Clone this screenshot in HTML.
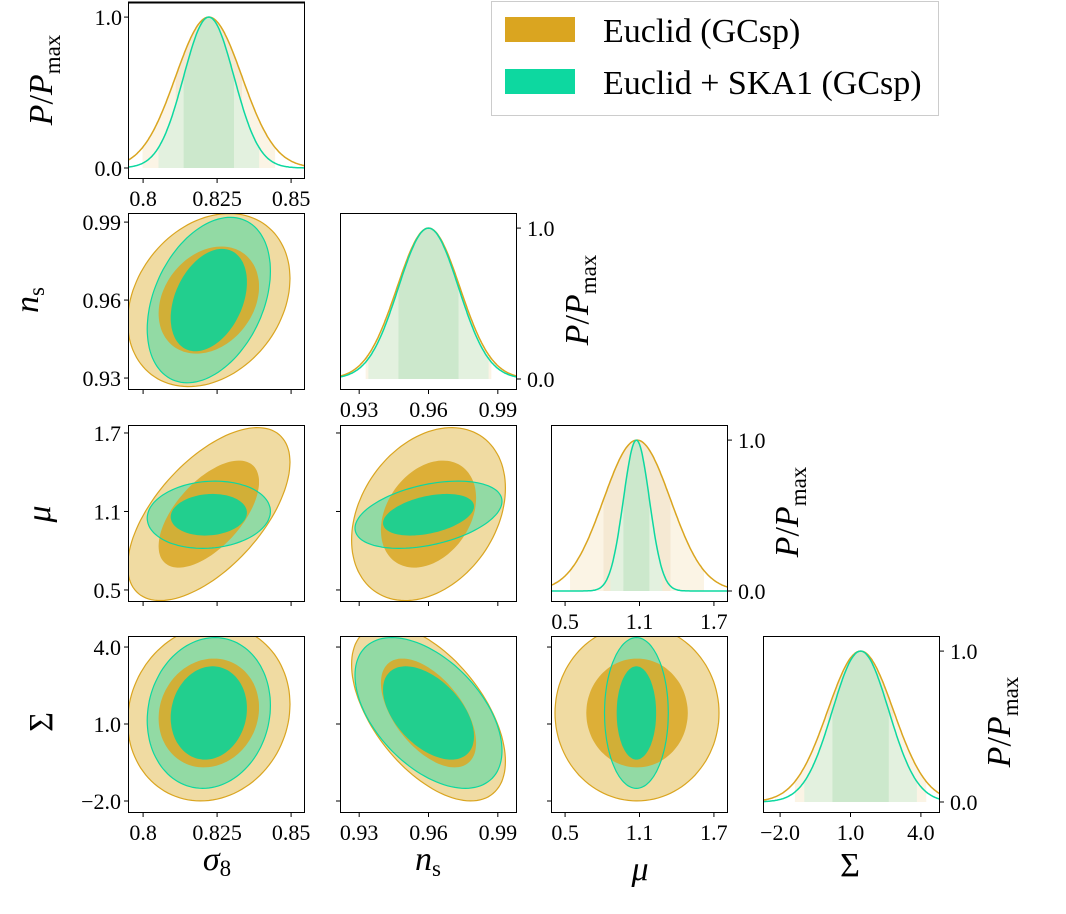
<!DOCTYPE html>
<html><head><meta charset="utf-8"><style>
html,body{margin:0;padding:0;background:#fff;}
svg{display:block;font-family:"Liberation Serif","DejaVu Serif",serif;}
</style></head><body>
<svg id="c" width="1066" height="914" viewBox="0 0 1066 914" xmlns="http://www.w3.org/2000/svg">
<defs id="defs"></defs>
<g id="legend">
<rect x="491.5" y="1.5" width="447" height="114" fill="#fff" stroke="#ccc"/>
<rect x="505" y="17" width="70" height="25" fill="#DAA520"/>
<text x="603" y="42" font-size="34">Euclid (GCsp)</text>
<rect x="505" y="69" width="70" height="25" fill="#0DD8A0"/>
<text x="603" y="94" font-size="34">Euclid + SKA1 (GCsp)</text>
</g>
</svg>
<script>
const paramNames=['sigma8','ns','mu','Sigma'];
const euclidMean=[0.8222,0.960,1.08,1.43];
const euclidSigma=[0.0112,0.0136,0.27,1.4];
const skaMean=[0.8222,0.960,1.075,1.43];
const skaSigma=[0.0085,0.0130,0.105,1.2];
const euclidCorr=[[1,0.25,0.6,0.1],[0.25,1,0.3,-0.55],[0.6,0.3,1,0],[0.1,-0.55,0,1]];
const skaCorr=[[1,0.35,0.1,0.1],[0.35,1,0.4,-0.5],[0.1,0.4,1,0],[0.1,-0.5,0,1]];
const tickVals=[[0.8,0.825,0.85],[0.93,0.96,0.99],[0.5,1.1,1.7],[-2,1,4]];
const tickText=[['0.8','0.825','0.85'],['0.93','0.96','0.99'],['0.5','1.1','1.7'],['\u22122.0','1.0','4.0']];
const xRange=[[0.7949,0.8547],[0.9217,0.9983],[0.3865,1.8135],[-2.729,4.814]];
const yRange=[null,[0.9254,0.9935],[0.408,1.761],[-2.468,4.43]];
const pRange=[-0.073,1.1];
const pTicks=[0,1];
const pTickText=['0.0','1.0'];

const NS='http://www.w3.org/2000/svg';
const svg=document.getElementById('c');
const defs=document.getElementById('defs');
const legend=document.getElementById('legend');
const X0=[128,340,551,763],Y0=[2,213,425,636],W=177,H=177;
function mk(tag,attrs,parent){const e=document.createElementNS(NS,tag);for(const k in attrs)e.setAttribute(k,attrs[k]);(parent||svg).appendChild(e);return e;}
function sx(j,v){const r=xRange[j];return X0[j]+(v-r[0])/(r[1]-r[0])*W;}
function sy(i,v){const r=yRange[i];return Y0[i]+H-(v-r[0])/(r[1]-r[0])*H;}
function sp(i,v){return Y0[i]+H-(v-pRange[0])/(pRange[1]-pRange[0])*H;}
const gauss=(x,m,s)=>Math.exp(-0.5*((x-m)/s)**2);
function ellPts(nm,i,j,k){
  const M=nm==='euclid'?euclidMean:skaMean,S=nm==='euclid'?euclidSigma:skaSigma,C=nm==='euclid'?euclidCorr:skaCorr;
  const rho=C[i][j];let pts=[];
  for(let t=0;t<=120;t++){const th=2*Math.PI*t/120;
    const vx=M[j]+k*S[j]*Math.cos(th);
    const vy=M[i]+k*S[i]*(rho*Math.cos(th)+Math.sqrt(1-rho*rho)*Math.sin(th));
    pts.push(sx(j,vx).toFixed(1)+','+sy(i,vy).toFixed(1));}
  return pts.join(' ');
}

for(let i=0;i<4;i++){for(let j=0;j<=i;j++){
  const g=mk('g',{});
  
  
  const cid='clip'+i+j;
  const cp=mk('clipPath',{id:cid},defs);
  mk('rect',{x:X0[j],y:Y0[i],width:W,height:H},cp);
  const inner=mk('g',{'clip-path':'url(#'+cid+')'},g);
  if(i===j){
    const sets=[[euclidMean[j],euclidSigma[j],'#DAA520','#FBF4E5','#F5E9D3','euclid'],[skaMean[j],skaSigma[j],'#0DD8A0','#E3F1DF','#CCE8CC','ska']];
    for(const [m,s,lc,f2,f1,nm] of sets){
      for(const [k,fc] of [[2,f2],[1,f1]]){
        let pts=[];const a=m-k*s,b=m+k*s;
        for(let t=0;t<=100;t++){const v=a+(b-a)*t/100;pts.push(sx(j,v).toFixed(1)+','+sp(i,gauss(v,m,s)).toFixed(1));}
        pts.push(sx(j,b)+','+sp(i,0));pts.push(sx(j,a)+','+sp(i,0));
        const p=mk('polygon',{points:pts.join(' '),fill:fc},inner);
        
        
      }
    }
    for(const [m,s,lc,f2,f1,nm] of sets){
      let pts=[];const r=xRange[j];
      for(let t=0;t<=200;t++){const v=r[0]+(r[1]-r[0])*t/200;pts.push(sx(j,v).toFixed(1)+','+sp(i,gauss(v,m,s)).toFixed(1));}
      const l=mk('polyline',{points:pts.join(' '),fill:'none',stroke:lc,'stroke-width':1.5},inner);
      
      
    }
  } else {
    const layers=[['euclid',2.448,'#F0DBA2',1,'#DAA520'],['ska',2.448,'#92DAA4',1,'none'],['euclid',1.515,'#DAA828',0.88,'none'],['ska',2.448,'none',1,'#0DD8A0'],['ska',1.515,'#22CF8E',1,'none']];
    for(const [nm,k,fc,op,st] of layers){
      const p=mk('polygon',{points:ellPts(nm,i,j,k),fill:fc,'fill-opacity':op,stroke:st,'stroke-width':1.2},inner);
      
      
    }
  }
  const fr=mk('rect',{x:X0[j]+0.5,y:Y0[i]+0.5,width:W-1,height:H-1,fill:'none',stroke:'#000','stroke-width':1},g);
  
  
  const showX=(i===3)||(i===j);
  tickVals[j].forEach((v,n)=>{const x=sx(j,v);
    mk('line',{x1:x,x2:x,y1:Y0[i]+H,y2:Y0[i]+H+4,stroke:'#000'},g);
    if(showX){const t=mk('text',{x:x,y:Y0[i]+H+27,'font-size':22,'text-anchor':'middle'},g);t.textContent=tickText[j][n];
      
      }
  });
  if(i===j){
    const right=i>0,xe=right?X0[j]+W:X0[j];
    pTicks.forEach((v,n)=>{const y=sp(i,v);
      mk('line',{x1:xe,x2:right?xe+4:xe-4,y1:y,y2:y,stroke:'#000'},g);
      const t=mk('text',{x:right?xe+10:xe-6,y:y+8,'font-size':22,'text-anchor':right?'start':'end'},g);t.textContent=pTickText[n];
      
      
    });
  } else {
    tickVals[i].forEach((v,n)=>{const y=sy(i,v);
      mk('line',{x1:X0[j],x2:X0[j]-4,y1:y,y2:y,stroke:'#000'},g);
      if(j===0){const t=mk('text',{x:X0[j]-7,y:y+8,'font-size':22,'text-anchor':'end'},g);t.textContent=tickText[i][n];
        
        }
    });
  }
}}
mk('line',{x1:128,x2:305,y1:2.5,y2:2.5,stroke:'#000','stroke-width':2});
function label(html,x,y,rot,name){const t=mk('text',{x:x,y:y,'font-size':34,'text-anchor':'middle',transform:rot?'rotate(-90 '+x+' '+y+')':''});t.innerHTML=html;
  
  }
const pp='<tspan font-style="italic">P</tspan>/<tspan font-style="italic">P</tspan><tspan font-size="23" dy="8">max</tspan>';
label(pp,52,80,true,'y-axis-title-p-top');
label(pp,588,300,true,'y-axis-title-p-ns');
label(pp,798,512,true,'y-axis-title-p-mu');
label(pp,1010,722,true,'y-axis-title-p-sigma');
label('<tspan font-style="italic">n</tspan><tspan font-size="23" dy="6">s</tspan>',38,300,true,'y-axis-title-ns');
label('<tspan font-style="italic">μ</tspan>',50,514,true,'y-axis-title-mu');
label('Σ',52,722,true,'y-axis-title-Sigma');
label('<tspan font-style="italic">σ</tspan><tspan font-size="23" dy="6">8</tspan>',217,870,false,'x-axis-title-sigma8');
label('<tspan font-style="italic">n</tspan><tspan font-size="23" dy="6">s</tspan>',428,870,false,'x-axis-title-ns');
label('<tspan font-style="italic">μ</tspan>',640,880,false,'x-axis-title-mu');
label('Σ',850,876,false,'x-axis-title-Sigma');
svg.appendChild(legend);
</script>
</body></html>
